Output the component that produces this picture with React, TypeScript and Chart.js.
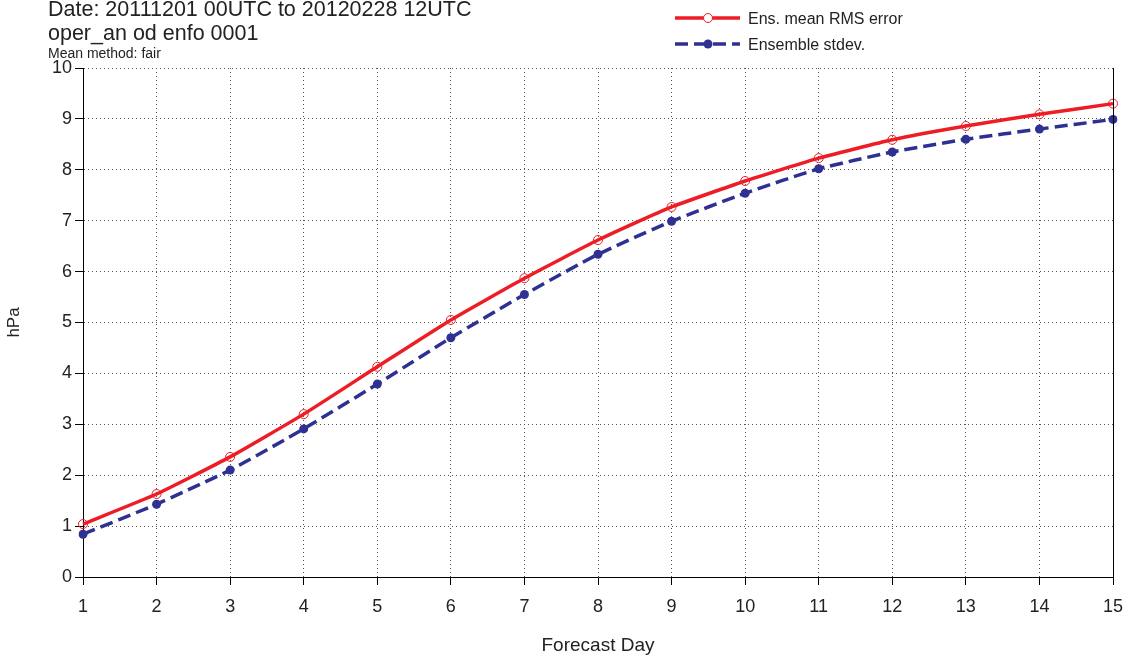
import React, { useEffect, useRef } from "react";
import { Chart, registerables } from "chart.js";

Chart.register(...registerables);

const days = ["1", "2", "3", "4", "5", "6", "7", "8", "9", "10", "11", "12", "13", "14", "15"];
const rmsError = [1.04, 1.63, 2.36, 3.2, 4.13, 5.05, 5.87, 6.62, 7.27, 7.78, 8.23, 8.59, 8.86, 9.09, 9.3];
const ensStdev = [0.84, 1.43, 2.1, 2.91, 3.79, 4.7, 5.55, 6.34, 6.99, 7.54, 8.02, 8.35, 8.6, 8.8, 8.99];
const titleLines = ["Date: 20111201 00UTC to 20120228 12UTC", "oper_an od enfo 0001"];
const subTitle = "Mean method: fair";
const legendLabels = ["Ens. mean RMS error", "Ensemble stdev."];

const RED = "#ee1c25";
const BLUE = "#2e3192";
const FONT = "'Liberation Sans', Arial, sans-serif";

export default function App() {
  const ref = useRef<HTMLCanvasElement | null>(null);

  useEffect(() => {
    if (!ref.current) return;
    const overlay = {
      id: "overlay",
      afterDraw(chart: any) {
        const ctx = chart.ctx;
        const ca = chart.chartArea;
        ctx.save();
        // right border
        ctx.strokeStyle = "#000";
        ctx.lineWidth = 1;
        ctx.setLineDash([]);
        ctx.beginPath();
        ctx.moveTo(Math.round(ca.right) + 0.5, ca.top);
        ctx.lineTo(Math.round(ca.right) + 0.5, ca.bottom);
        ctx.stroke();
        // titles
        ctx.fillStyle = "#222";
        ctx.textAlign = "left";
        ctx.textBaseline = "alphabetic";
        ctx.font = `21.5px ${FONT}`;
        ctx.fillText(titleLines[0], 48, 16);
        ctx.fillText(titleLines[1], 48, 40);
        ctx.font = `14px ${FONT}`;
        ctx.fillText(subTitle, 48, 58);
        // legend
        const items = [
          { y: 18, color: RED, dash: [] as number[], filled: false, label: legendLabels[0] },
          { y: 44, color: BLUE, dash: [13, 6], filled: true, label: legendLabels[1] },
        ];
        for (const it of items) {
          ctx.strokeStyle = it.color;
          ctx.lineWidth = 3.5;
          ctx.setLineDash(it.dash);
          ctx.beginPath();
          ctx.moveTo(675, it.y);
          ctx.lineTo(740, it.y);
          ctx.stroke();
          ctx.setLineDash([]);
          ctx.beginPath();
          ctx.arc(708, it.y, 4.5, 0, Math.PI * 2);
          if (it.filled) {
            ctx.fillStyle = it.color;
            ctx.fill();
          } else {
            ctx.fillStyle = "#fff";
            ctx.fill();
            ctx.lineWidth = 1;
            ctx.stroke();
          }
          ctx.fillStyle = "#222";
          ctx.font = `16px ${FONT}`;
          ctx.fillText(it.label, 748, it.y + 6);
        }
        ctx.restore();
      },
    };

    const chart = new Chart(ref.current, {
      type: "line",
      data: {
        labels: days,
        datasets: [
          {
            label: legendLabels[0],
            data: rmsError,
            borderColor: RED,
            borderWidth: 3.5,
            pointRadius: 4.5,
            pointBackgroundColor: "rgba(255,255,255,0)",
            pointBorderColor: RED,
            pointBorderWidth: 1,
            tension: 0.15,
          },
          {
            label: legendLabels[1],
            data: ensStdev,
            borderColor: BLUE,
            borderWidth: 3.5,
            borderDash: [13, 6],
            pointRadius: 4.5,
            pointBackgroundColor: BLUE,
            pointBorderColor: BLUE,
            pointBorderWidth: 0,
            tension: 0.15,
          },
        ],
      },
      options: {
        animation: false,
        responsive: true,
        maintainAspectRatio: false,
        layout: { padding: { left: 0, top: 68, right: 13, bottom: 0 } },
        plugins: {
          legend: { display: false },
          title: { display: false },
          tooltip: { enabled: false },
        },
        scales: {
          x: {
            type: "category",
            afterFit: (s: any) => {
              s.height = 78;
              s.paddingLeft = 0;
              s.paddingRight = 0;
            },
            grid: {
              color: "#555",
              lineWidth: 1,
              tickLength: 8,
              tickColor: "#000",
            },
            border: { display: true, color: "#000", width: 1, dash: [1, 3] },
            ticks: {
              color: "#222",
              font: { family: FONT, size: 18 },
              padding: 11,
              maxRotation: 0,
            },
            title: {
              display: true,
              text: "Forecast Day",
              color: "#222",
              font: { family: FONT, size: 19, lineHeight: 1 },
              padding: { top: 0, bottom: 0 },
            },
          },
          y: {
            min: 0,
            max: 10,
            afterFit: (s: any) => {
              s.width = 83;
              s.paddingTop = 0;
              s.paddingBottom = 0;
            },
            grid: {
              color: "#555",
              lineWidth: 1,
              tickLength: 8,
              tickColor: "#000",
            },
            border: { display: true, color: "#000", width: 1, dash: [1, 3] },
            ticks: {
              stepSize: 1,
              color: "#222",
              font: { family: FONT, size: 18 },
              padding: 3,
            },
            title: {
              display: true,
              text: "hPa",
              color: "#222",
              font: { family: FONT, size: 17 },
              padding: { top: 4, bottom: 0 },
            },
          },
        },
      },
      plugins: [overlay],
    });
    return () => chart.destroy();
  }, []);

  return (
    <div style={{ position: "fixed", left: 0, top: 0, width: 1126, height: 655, background: "#fff" }}>
      <canvas ref={ref} />
    </div>
  );
}
